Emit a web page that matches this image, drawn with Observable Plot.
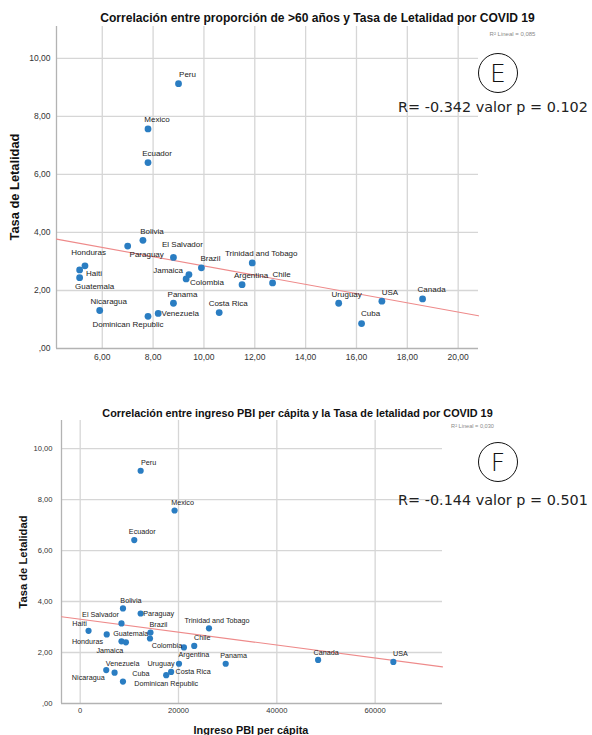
<!DOCTYPE html>
<html>
<head>
<meta charset="utf-8">
<script src="https://cdn.jsdelivr.net/npm/d3@7"></script>
<script src="https://cdn.jsdelivr.net/npm/@observablehq/plot@0.6"></script>
<style>
  html, body { margin: 0; padding: 0; background: #fff; }
  #page { position: relative; width: 592px; height: 735px; overflow: hidden;
          font-family: "Liberation Sans", Arial, sans-serif; }
  .abs { position: absolute; white-space: nowrap; line-height: 1; }
  .chart { position: absolute; left: 0; }
  .circ { position: absolute; border: 1.3px solid #111; border-radius: 50%;
          box-sizing: border-box; display: flex; align-items: center; justify-content: center;
          font-family: "DejaVu Sans", sans-serif; font-weight: 300; color: #111; }
</style>
</head>
<body>
<div id="page"></div>
<script>
// ---------------- DATA ----------------
const countries = ["Peru","Mexico","Ecuador","Bolivia","Paraguay","El Salvador",
  "Trinidad and Tobago","Brazil","Haiti","Guatemala","Honduras","Chile","Argentina",
  "Colombia","Jamaica","Panama","Uruguay","Canada","USA","Nicaragua","Venezuela",
  "Costa Rica","Dominican Republic","Cuba"];
// proporción de >60 años (%)
const over60 = [9.0, 7.8, 7.8, 7.6, 7.0, 8.8, 11.9, 9.9, 5.32, 5.11, 5.11, 12.7, 11.5,
  9.41, 9.3, 8.8, 15.3, 18.6, 17.0, 5.9, 8.2, 10.6, 7.8, 16.2];
// ingreso PBI per cápita
const gdp = [12300, 19200, 11000, 8700, 12300, 8400, 26200, 14300, 1700, 5400, 8400, 23200,
  21100, 14200, 9300, 29600, 20100, 48400, 63700, 5300, 7000, 18500, 17500, 8700];
// Tasa de Letalidad
const lethality = [9.13, 7.57, 6.41, 3.73, 3.53, 3.14, 2.95, 2.78, 2.85, 2.71, 2.44, 2.26,
  2.20, 2.55, 2.40, 1.56, 1.56, 1.71, 1.63, 1.31, 1.21, 1.24, 1.11, 0.86];

const yTicks = [0, 2, 4, 6, 8, 10];
const yTickLabels = [",00", "2,00", "4,00", "6,00", "8,00", "10,00"];
const xTicksE = [6, 8, 10, 12, 14, 16, 18, 20];
const xTickLabelsE = ["6,00", "8,00", "10,00", "12,00", "14,00", "16,00", "18,00", "20,00"];
const xTicksF = [0, 20000, 40000, 60000];
const xTickLabelsF = ["0", "20000", "40000", "60000"];

const titleE = "Correlación entre proporción de >60 años y Tasa de Letalidad por COVID 19";
const titleF = "Correlación entre ingreso PBI per cápita y la Tasa de letalidad por COVID 19";
const r2E = "R² Lineal = 0,085";
const r2F = "R² Lineal = 0,030";
const statE = "R= -0.342 valor p = 0.102";
const statF = "R= -0.144 valor p = 0.501";
const yTitle = "Tasa de Letalidad";
const xTitleF = "Ingreso PBI per cápita";

// ---------------- label placement (pixel offsets from the dot) ----------------
const defOff = [9, -9];
const labelOffE = {
  "Paraguay": [19, 8], "El Salvador": [9, -13], "Jamaica": [-18, -8], "Colombia": [18, 8],
  "Honduras": [9, -25], "Haiti": [9, 8], "Guatemala": [15, 17], "Venezuela": [22, 0],
  "Dominican Republic": [-20, 8], "Cuba": [9, -10], "Uruguay": [8, -9], "USA": [8, -9]
};
const labelOffF = {
  "Peru": [8, -8], "Mexico": [8, -8], "Ecuador": [8, -8], "Bolivia": [8, -8],
  "Paraguay": [18, 0], "El Salvador": [-21, -9], "Haiti": [-9, -7], "Guatemala": [24, -1],
  "Brazil": [8, -8], "Colombia": [17, 7], "Honduras": [-34, 0], "Jamaica": [-16, 8],
  "Trinidad and Tobago": [8, -8], "Chile": [8, -8], "Argentina": [10, 7], "Uruguay": [-18, 0],
  "Panama": [8, -8], "Nicaragua": [-18, 8], "Venezuela": [8, -9], "Cuba": [18, -8],
  "Costa Rica": [22, 0], "Dominican Republic": [0, 8], "Canada": [8, -7], "USA": [7, -8]
};

// ---------------- helpers ----------------
function linreg(pts) {
  const mx = d3.mean(pts, d => d.x), my = d3.mean(pts, d => d.y);
  const b = d3.sum(pts, d => (d.x - mx) * (d.y - my)) / d3.sum(pts, d => (d.x - mx) ** 2);
  return { a: my - b * mx, b };
}
const ctx = document.createElement("canvas").getContext("2d");
function fitSize(text, font, base, target) {
  ctx.font = `${font.replace("SIZE", base + "px")}`;
  return base * target / ctx.measureText(text).width;
}

function makeChart(o) {
  const data = countries.map((c, i) => ({ name: c, x: o.xs[i], y: lethality[i] }));
  const fit = linreg(data);
  const ends = o.xDomain.map(x => ({ x, y: fit.a + fit.b * x }));
  const xLab = new Map(o.xTicks.map((t, i) => [t, o.xTickLabels[i]]));
  const yLab = new Map(yTicks.map((t, i) => [t, yTickLabels[i]]));
  const grid = "#d6d6d6";
  const textMarks = data.map(d => {
    const off = o.offsets[d.name] || defOff;
    return Plot.text([d], { x: "x", y: "y", text: "name", dx: off[0], dy: off[1],
      fill: "#222", fontSize: o.labelSize, textAnchor: "middle" });
  });
  return Plot.plot({
    width: 592, height: o.height,
    marginLeft: o.ml, marginRight: 592 - o.right, marginTop: o.mt, marginBottom: o.mb,
    style: { fontFamily: '"Liberation Sans", Arial, sans-serif', background: "transparent",
             overflow: "visible" },
    x: { domain: o.xDomain, label: null },
    y: { domain: [0, 11.1], label: null },
    marks: [
      Plot.gridX(o.xTicks, { stroke: grid, strokeOpacity: 1, strokeWidth: 1.3 }),
      Plot.gridY(yTicks.filter(t => t > 0), { stroke: grid, strokeOpacity: 1, strokeWidth: 1.3 }),
      Plot.ruleX([o.xDomain[0]], { stroke: "#b3b3b3", strokeWidth: 1.3 }),
      Plot.ruleY([0], { stroke: "#b3b3b3", strokeWidth: 1.3 }),
      Plot.axisX(o.xTicks, { tickSize: 0, tickPadding: o.xPad, fontSize: o.tickSize,
        fill: "#333", tickFormat: t => xLab.get(t) }),
      Plot.axisY(yTicks, { tickSize: 0, tickPadding: o.yPad, fontSize: o.tickSize,
        fill: "#333", tickFormat: t => yLab.get(t) }),
      Plot.line(ends, { x: "x", y: "y", stroke: "#ee8a8a", strokeWidth: 1.1 }),
      Plot.dot(data, { x: "x", y: "y", r: o.r, fill: "#2a7dc2", stroke: "none" }),
      ...textMarks
    ]
  });
}

const page = document.getElementById("page");
function addChart(svg, top) {
  svg.classList.add("chart");
  svg.style.top = top + "px";
  page.appendChild(svg);
}
function addText(text, css) {
  const d = document.createElement("div");
  d.className = "abs";
  d.textContent = text;
  Object.assign(d.style, css);
  page.appendChild(d);
  return d;
}
function centered(text, cx, cy, fontCss, rotate) {
  const d = addText(text, fontCss);
  d.style.left = cx + "px"; d.style.top = cy + "px";
  d.style.transform = `translate(-50%, -50%)${rotate ? " rotate(-90deg)" : ""}`;
  return d;
}
function circled(letter, cx, cy) {
  const d = document.createElement("div");
  d.className = "circ";
  d.textContent = letter;
  Object.assign(d.style, { left: (cx - 20) + "px", top: (cy - 20) + "px", width: "40px",
    height: "40px", fontSize: "25px" });
  page.appendChild(d);
}

// ---------------- Chart E ----------------
addChart(makeChart({
  xs: over60, xDomain: [4.2, 20.8], xTicks: xTicksE, xTickLabels: xTickLabelsE,
  height: 372, ml: 56, right: 478, mt: 26, mb: 24,
  xPad: 5, yPad: 6, tickSize: 8.5, labelSize: 8, r: 3.4, offsets: labelOffE
}), 0);

// ---------------- Chart F ----------------
addChart(makeChart({
  xs: gdp, xDomain: [-3800, 73700], xTicks: xTicksF, xTickLabels: xTickLabelsF,
  height: 345, ml: 61, right: 442, mt: 30, mb: 32,
  xPad: 4, yPad: 9, tickSize: 7.6, labelSize: 7.2, r: 3.1, offsets: labelOffF
}), 390);

// ---------------- titles & annotations ----------------
const boldArial = 'bold SIZE "Liberation Sans", Arial, sans-serif';
const plainDejaVu = 'SIZE "DejaVu Sans", sans-serif';
const sE = fitSize(titleE, boldArial, 11, 435);
centered(titleE, 317.5, 18, { font: `bold ${sE}px "Liberation Sans", Arial, sans-serif`, color: "#111" });
const sF = fitSize(titleF, boldArial, 10, 391);
centered(titleF, 297.5, 413, { font: `bold ${sF}px "Liberation Sans", Arial, sans-serif`, color: "#111" });

centered(r2E, 512.5, 34, { font: `6px "Liberation Sans", Arial, sans-serif`, color: "#8a8a8a" });
centered(r2F, 472.5, 426, { font: `5.6px "Liberation Sans", Arial, sans-serif`, color: "#8a8a8a" });

circled("E", 498, 73);
circled("F", 498, 462);

const rs = fitSize(statE, plainDejaVu, 14, 190);
centered(statE, 493, 107, { font: `${rs}px "DejaVu Sans", sans-serif`, color: "#222" });
centered(statF, 493, 500, { font: `${rs}px "DejaVu Sans", sans-serif`, color: "#222" });

const yE = fitSize(yTitle, boldArial, 12, 107);
centered(yTitle, 13.5, 187, { font: `bold ${yE}px "Liberation Sans", Arial, sans-serif`, color: "#111" }, true);
const yF = fitSize(yTitle, boldArial, 11, 93);
centered(yTitle, 22.5, 561.5, { font: `bold ${yF}px "Liberation Sans", Arial, sans-serif`, color: "#111" }, true);
const xF = fitSize(xTitleF, boldArial, 11, 115);
centered(xTitleF, 251, 730, { font: `bold ${xF}px "Liberation Sans", Arial, sans-serif`, color: "#111" });
</script>
</body>
</html>
